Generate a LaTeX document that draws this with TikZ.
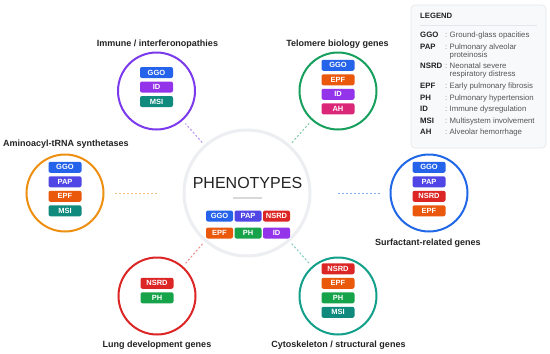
\documentclass[tikz,border=0pt]{standalone}
\usepackage{fontspec}
\setmainfont{Liberation Sans}
\definecolor{cGGO}{HTML}{2563EB}
\definecolor{cPAP}{HTML}{4F46E5}
\definecolor{cNSRD}{HTML}{DC2626}
\definecolor{cEPF}{HTML}{EA580C}
\definecolor{cPH}{HTML}{16A34A}
\definecolor{cID}{HTML}{9333EA}
\definecolor{cMSI}{HTML}{0F8A7D}
\definecolor{cAH}{HTML}{DB2777}
\definecolor{rImm}{HTML}{7C3AED}
\definecolor{rTel}{HTML}{17A05D}
\definecolor{rAmi}{HTML}{EE8F12}
\definecolor{rSur}{HTML}{2168E6}
\definecolor{rLung}{HTML}{DC2626}
\definecolor{rCyto}{HTML}{12A08A}
\definecolor{ringgray}{HTML}{ECEEF1}
\definecolor{txtdark}{HTML}{222222}
\definecolor{legfill}{HTML}{F8F9FA}
\definecolor{legline}{HTML}{E3E6EA}
\definecolor{leggray}{HTML}{555555}
\begin{document}
\begin{tikzpicture}[x=1pt,y=-1pt,
  badge/.style={rounded corners=2pt, minimum width=33pt, minimum height=11pt, inner sep=0pt,
    text=white, text height=5.4pt, text depth=0pt, font=\bfseries\fontsize{7.5}{8}\selectfont},
  cbadge/.style={badge, minimum width=27pt},
  ggo/.style={fill=cGGO}, pap/.style={fill=cPAP}, nsrd/.style={fill=cNSRD}, epf/.style={fill=cEPF},
  ph/.style={fill=cPH}, idb/.style={fill=cID}, msi/.style={fill=cMSI}, ah/.style={fill=cAH},
  sat/.style={circle, draw, line width=2pt, minimum size=77pt, inner sep=0pt},
  sattitle/.style={inner sep=0pt, text=txtdark, text height=6.4pt, text depth=0pt, font=\bfseries\fontsize{9}{11}\selectfont},
  conn/.style={line width=1pt, dash pattern=on 2pt off 2pt, draw opacity=0.55},
  legtxt/.style={anchor=west, inner sep=0pt, text height=5.6pt, text depth=0pt, text=leggray, font=\fontsize{7.8}{9}\selectfont},
  legab/.style={anchor=west, inner sep=0pt, text height=5.6pt, text depth=0pt, text=txtdark, font=\bfseries\fontsize{7.8}{9}\selectfont},
  legcol/.style={anchor=west, inner sep=0pt, text height=5.6pt, text depth=0pt, text=leggray!70, font=\fontsize{7.8}{9}\selectfont}
]
\useasboundingbox (0,0) rectangle (550,354);
\fill[white] (0,0) rectangle (550,354);

% center
\node[circle, draw=ringgray, line width=3pt, minimum size=126pt, inner sep=0pt] (ctr) at (247,193) {};
\node[inner sep=0pt, text=txtdark, text height=11.5pt, text depth=0pt, font=\fontsize{16}{18}\selectfont] (phen) at (247.5,183) {PHENOTYPES};
\draw[line width=1.5pt, draw=ringgray!80!gray] (233,198) -- (262,198);
\node[cbadge, ggo] (c1) at (219.5,216) {GGO};
\node[cbadge, pap] (c2) at (248,216) {PAP};
\node[cbadge, nsrd] (c3) at (276.5,216) {NSRD};
\node[cbadge, epf] (c4) at (219.5,233) {EPF};
\node[cbadge, ph] (c5) at (248,233) {PH};
\node[cbadge, idb] (c6) at (276.5,233) {ID};

% satellites
\node[sat, draw=rImm] (imm) at (156.5,91) {};
\node[sat, draw=rTel] (tel) at (338,91) {};
\node[sat, draw=rAmi] (ami) at (65,193) {};
\node[sat, draw=rSur] (sur) at (429,193) {};
\node[sat, draw=rLung] (lung) at (157,296) {};
\node[sat, draw=rCyto] (cyto) at (338,296) {};

% connectors
\draw[conn, draw=rImm, shorten <=3pt, shorten >=4pt] (ctr) -- (imm);
\draw[conn, draw=rTel, shorten <=3pt, shorten >=4pt] (ctr) -- (tel);
\draw[conn, draw=rLung, shorten <=3pt, shorten >=4pt] (ctr) -- (lung);
\draw[conn, draw=rCyto, shorten <=3pt, shorten >=4pt] (ctr) -- (cyto);
\draw[conn, draw=rAmi, shorten <=26pt, shorten >=10pt] (ctr) -- (ami);
\draw[conn, draw=rSur, shorten <=26pt, shorten >=10pt] (ctr) -- (sur);

% titles
\node[sattitle] (timm) at (157.5,43) {Immune / interferonopathies};
\node[sattitle] (ttel) at (337.5,43) {Telomere biology genes};
\node[sattitle] (tami) at (66,143) {Aminoacyl-tRNA synthetases};
\node[sattitle] (tsur) at (428,242) {Surfactant-related genes};
\node[sattitle] (tlung) at (157,344) {Lung development genes};
\node[sattitle] (tcyto) at (338.5,344) {Cytoskeleton / structural genes};

% badges: immune
\node[badge, ggo] (i1) at (156.5,72.5) {GGO};
\node[badge, idb] (i2) at (156.5,87) {ID};
\node[badge, msi] (i3) at (156.5,101.5) {MSI};
% telomere
\node[badge, ggo] (t1) at (338,65.25) {GGO};
\node[badge, epf] (t2) at (338,79.75) {EPF};
\node[badge, idb] (t3) at (338,94.25) {ID};
\node[badge, ah] (t4) at (338,108.75) {AH};
% aminoacyl
\node[badge, ggo] (a1) at (65,167.25) {GGO};
\node[badge, pap] (a2) at (65,181.75) {PAP};
\node[badge, epf] (a3) at (65,196.25) {EPF};
\node[badge, msi] (a4) at (65,210.75) {MSI};
% surfactant
\node[badge, ggo] (s1) at (429,167.25) {GGO};
\node[badge, pap] (s2) at (429,181.75) {PAP};
\node[badge, nsrd] (s3) at (429,196.25) {NSRD};
\node[badge, epf] (s4) at (429,210.75) {EPF};
% lung
\node[badge, nsrd] (l1) at (157,283.25) {NSRD};
\node[badge, ph] (l2) at (157,297.75) {PH};
% cyto
\node[badge, nsrd] (y1) at (338,268.75) {NSRD};
\node[badge, epf] (y2) at (338,283.25) {EPF};
\node[badge, ph] (y3) at (338,297.75) {PH};
\node[badge, msi] (y4) at (338,312.25) {MSI};

% legend
\draw[fill=legfill, draw=legline, line width=0.6pt, rounded corners=4pt] (411,5) rectangle (546,148);
\node[legab, font=\bfseries\fontsize{7.7}{9}\selectfont] (lg) at (420,16) {LEGEND};
\draw[draw=legline, line width=0.8pt] (420,25) -- (537,25);
\node[legab] (k1) at (420,34.3) {GGO};   \node[legcol] (q1) at (445,34.3) {:}; \node[legtxt] (d1) at (449.5,34.3) {Ground-glass opacities};
\node[legab] (k2) at (420,46.7) {PAP};   \node[legcol] (q2) at (445,46.7) {:}; \node[legtxt] (d2) at (449.5,46.7) {Pulmonary alveolar};
\node[legtxt] (d2b) at (449.5,54.3) {proteinosis};
\node[legab] (k3) at (420,65.7) {NSRD};  \node[legcol] (q3) at (445,65.7) {:}; \node[legtxt] (d3) at (449.5,65.7) {Neonatal severe};
\node[legtxt] (d3b) at (449.5,73.3) {respiratory distress};
\node[legab] (k4) at (420,85.2) {EPF};   \node[legcol] (q4) at (445,85.2) {:}; \node[legtxt] (d4) at (449.5,85.2) {Early pulmonary fibrosis};
\node[legab] (k5) at (420,97.3) {PH};    \node[legcol] (q5) at (445,97.3) {:}; \node[legtxt] (d5) at (449.5,97.3) {Pulmonary hypertension};
\node[legab] (k6) at (420,108.6) {ID};   \node[legcol] (q6) at (445,108.6) {:}; \node[legtxt] (d6) at (449.5,108.6) {Immune dysregulation};
\node[legab] (k7) at (420,120.2) {MSI};  \node[legcol] (q7) at (445,120.2) {:}; \node[legtxt] (d7) at (449.5,120.2) {Multisystem involvement};
\node[legab] (k8) at (420,131.8) {AH};   \node[legcol] (q8) at (445,131.8) {:}; \node[legtxt] (d8) at (449.5,131.8) {Alveolar hemorrhage};
\end{tikzpicture}
\end{document}
